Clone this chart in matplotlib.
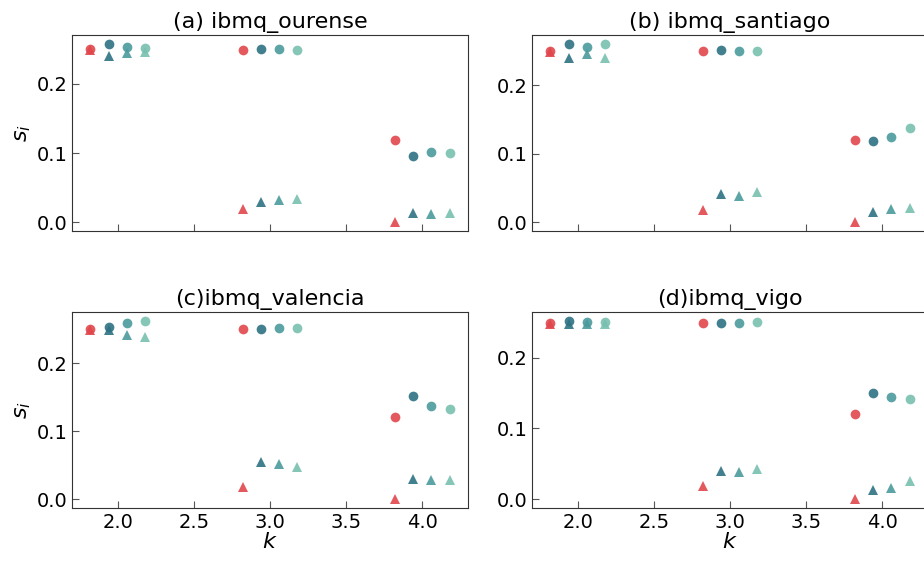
import numpy as np
import matplotlib.pyplot as plt

k_values = [2, 3, 4]
offsets = [-0.18, -0.06, 0.06, 0.18]
colors = ['#e0474c', '#2e7283', '#4a9a9d', '#78c0b0']

titles = ['(a) ibmq_ourense', '(b) ibmq_santiago', '(c)ibmq_valencia', '(d)ibmq_vigo']

# circles: one row per series, one column per k
circ_a = [[0.250, 0.249, 0.119],
          [0.258, 0.251, 0.095],
          [0.253, 0.250, 0.101],
          [0.252, 0.249, 0.0995]]
tri_a = [[0.249, 0.019, 0.000],
         [0.240, 0.029, 0.013],
         [0.245, 0.032, 0.011],
         [0.246, 0.034, 0.013]]

circ_b = [[0.249, 0.250, 0.120],
          [0.260, 0.251, 0.119],
          [0.255, 0.250, 0.124],
          [0.260, 0.250, 0.138]]
tri_b = [[0.248, 0.018, 0.000],
         [0.239, 0.041, 0.015],
         [0.245, 0.038, 0.019],
         [0.239, 0.044, 0.021]]

circ_c = [[0.250, 0.250, 0.120],
          [0.253, 0.250, 0.151],
          [0.259, 0.252, 0.137],
          [0.262, 0.252, 0.133]]
tri_c = [[0.249, 0.018, 0.000],
         [0.248, 0.054, 0.030],
         [0.241, 0.052, 0.028],
         [0.238, 0.047, 0.028]]

circ_d = [[0.249, 0.249, 0.120],
          [0.252, 0.249, 0.150],
          [0.250, 0.249, 0.144],
          [0.251, 0.250, 0.142]]
tri_d = [[0.248, 0.018, 0.000],
         [0.247, 0.040, 0.013],
         [0.247, 0.038, 0.016],
         [0.247, 0.042, 0.026]]

circles = [circ_a, circ_b, circ_c, circ_d]
triangles = [tri_a, tri_b, tri_c, tri_d]

fig = plt.figure(figsize=(9.24, 5.63), dpi=100)

# axes positions (left, bottom, width, height) in figure fraction
w, h = 396 / 924, 196 / 563
positions = [(72 / 924, 1 - 231 / 563, w, h),
             (532 / 924, 1 - 231 / 563, w, h),
             (72 / 924, 1 - 508 / 563, w, h),
             (532 / 924, 1 - 508 / 563, w, h)]

for i in range(4):
    ax = fig.add_axes(positions[i])
    for j in range(4):
        x = np.array(k_values) + offsets[j]
        ax.plot(x, triangles[i][j], linestyle='none', marker='^', markersize=6.5,
                color=colors[j], alpha=0.9, markeredgewidth=0)
        ax.plot(x, circles[i][j], linestyle='none', marker='o', markersize=7,
                color=colors[j], alpha=0.9, markeredgewidth=0)
    ax.set_xlim(1.7, 4.3)
    ax.set_xticks([2.0, 2.5, 3.0, 3.5, 4.0])
    ax.set_yticks([0.0, 0.1, 0.2])
    ax.tick_params(direction='in', length=5, labelsize=14, color='#555555')
    ax.set_title(titles[i], fontsize=16, pad=5)
    for s in ax.spines.values():
        s.set_color('#333333')
    if i < 2:
        ax.tick_params(labelbottom=False)
    else:
        ax.set_xlabel('$k$', fontsize=16, labelpad=0)
    if i % 2 == 0:
        ax.set_ylabel('$s_i$', fontsize=16, labelpad=2)

plt.savefig('out.png', dpi=100)
